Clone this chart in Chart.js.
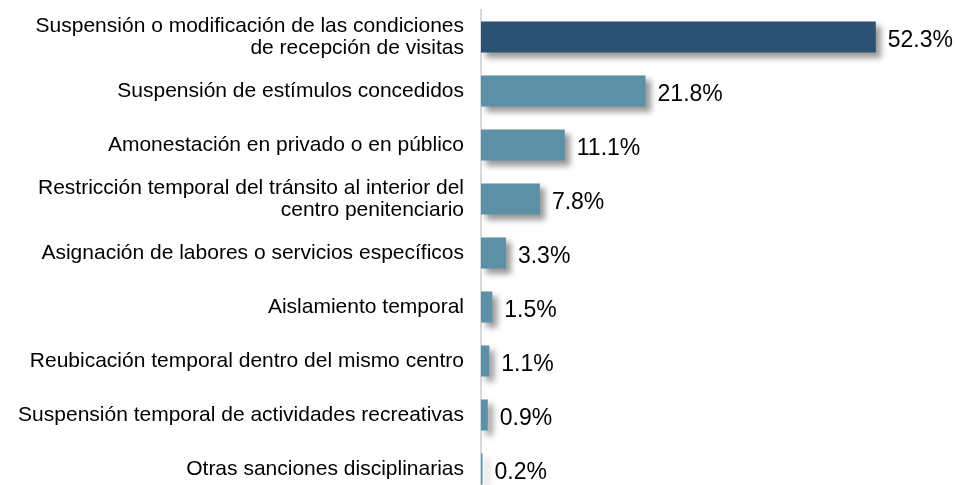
<!DOCTYPE html>
<html>
<head>
<meta charset="utf-8">
<script src="https://cdn.jsdelivr.net/npm/chart.js@4.4.1/dist/chart.umd.min.js"></script>
<style>
  html, body { margin: 0; padding: 0; background: #fff; overflow: hidden; }
  #wrap { width: 956px; height: 500px; }
</style>
</head>
<body>
<div id="wrap"><canvas id="chart"></canvas></div>
<script>
// Categorías (sanciones) y porcentajes
const categorias = [
  ['Suspensión o modificación de las condiciones', 'de recepción de visitas'],
  'Suspensión de estímulos concedidos',
  'Amonestación en privado o en público',
  ['Restricción temporal del tránsito al interior del', 'centro penitenciario'],
  'Asignación de labores o servicios específicos',
  'Aislamiento temporal',
  'Reubicación temporal dentro del mismo centro',
  'Suspensión temporal de actividades recreativas',
  'Otras sanciones disciplinarias'
];
const porcentajes = [52.3, 21.8, 11.1, 7.8, 3.3, 1.5, 1.1, 0.9, 0.2];

const colorOscuro = '#2b5272';
const colorClaro = '#5b90a7';
const colores = porcentajes.map((v, i) => i === 0 ? colorOscuro : colorClaro);

// sombra de las barras
const sombraBarras = {
  id: 'sombraBarras',
  beforeDatasetDraw(chart) {
    const ctx = chart.ctx;
    ctx.save();
    ctx.shadowColor = 'rgba(0,0,0,0.4)';
    ctx.shadowBlur = 6;
    ctx.shadowOffsetX = 5;
    ctx.shadowOffsetY = 5;
  },
  afterDatasetDraw(chart) {
    chart.ctx.restore();
  }
};

// etiquetas de valor al final de cada barra
const etiquetasValor = {
  id: 'etiquetasValor',
  afterDatasetsDraw(chart) {
    const ctx = chart.ctx;
    const meta = chart.getDatasetMeta(0);
    ctx.save();
    ctx.font = '23px "Liberation Sans", Arial, sans-serif';
    ctx.fillStyle = '#000';
    ctx.textAlign = 'left';
    ctx.textBaseline = 'middle';
    meta.data.forEach((bar, i) => {
      ctx.fillText(porcentajes[i].toFixed(1) + '%', bar.x + 12, bar.y + 4);
    });
    ctx.restore();
  }
};

new Chart(document.getElementById('chart'), {
  type: 'bar',
  data: {
    labels: categorias,
    datasets: [{
      data: porcentajes,
      backgroundColor: colores,
      borderWidth: 0,
      categoryPercentage: 1,
      barPercentage: 0.575
    }]
  },
  options: {
    indexAxis: 'y',
    responsive: true,
    maintainAspectRatio: false,
    animation: false,
    layout: { padding: { top: 10, right: 7, bottom: 4, left: 0 } },
    plugins: {
      legend: { display: false },
      tooltip: { enabled: false }
    },
    scales: {
      x: {
        display: false,
        min: 0,
        max: 62
      },
      y: {
        afterFit(scale) {
          scale.width = 481;
          scale.paddingTop = 0;
          scale.paddingBottom = 0;
        },
        grid: { display: false, drawTicks: false },
        border: { display: true, color: '#d9d9d9', width: 2 },
        ticks: {
          color: '#000',
          padding: 17,
          font: { family: '"Liberation Sans", Arial, sans-serif', size: 21, lineHeight: 1.05 }
        }
      }
    }
  },
  plugins: [sombraBarras, etiquetasValor]
});
</script>
</body>
</html>
